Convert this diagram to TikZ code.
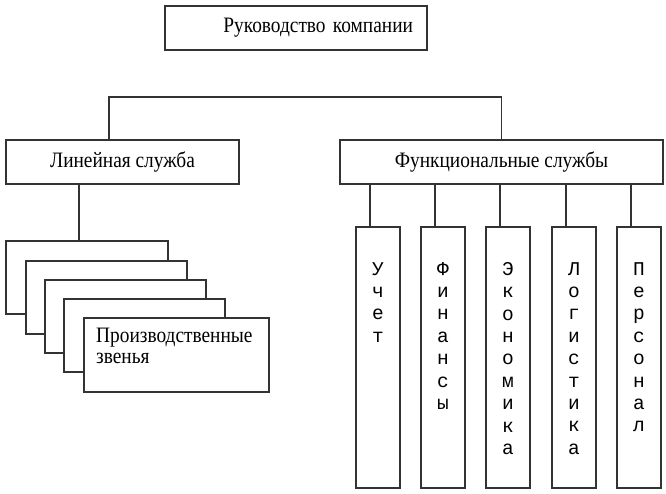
\documentclass[tikz,border=0pt]{standalone}
\usepackage{fontspec}
\setmainfont{Liberation Serif}
\newfontfamily\boxfont[FakeStretch=0.88]{Liberation Serif}
\newfontfamily\colfont{Liberation Mono}
\usetikzlibrary{calc,positioning}
\tikzstyle{link}=[line width=1.6pt, draw=black!80]
\tikzstyle{box}=[
	 rectangle, draw=black!80, line width=1.6pt, fill=white,
	 inner sep=0pt, outer sep=0pt,
	 font={\boxfont\fontsize{22}{21}\selectfont}
    ]
\tikzstyle{head}=[box, minimum width=262pt, minimum height=44pt, text width=234pt, align=right]
\tikzstyle{service}=[box, minimum height=44pt]
\tikzstyle{unit}=[box, anchor=north west, minimum width=161pt, minimum height=73pt]
\tikzstyle{column}=[box, minimum width=44pt, minimum height=261pt]
\tikzstyle{letters}=[inner sep=0pt, align=center, font={\colfont\fontsize{19.5}{22.4}\selectfont}]
\tikzstyle{unitname}=[inner sep=0pt, align=left, font={\boxfont\fontsize{22}{21}\selectfont}]
\newcommand{\pTop}[2]{\draw[link] let \p1 = (#1.north), \p2 = (#2.north) in (\x1-13.5pt,\y1) -- (\x1-13.5pt,\y1+43pt) -| (\x2,\y2)}
\newcommand{\pDown}[2]{\draw[link] let \p1 = (#1.south), \p2 = (#2.north) in (\x2-8pt,\y1) -- (\x2-8pt,\y2)}

\begin{document}
\begin{tikzpicture}[x=1pt,y=1pt]
\useasboundingbox (0,0) rectangle (666,493);

\node[head] (Top) at (296,465) {Руководство компании};

\node[service, minimum width=233pt] (Lin) at (122.5,331) {Линейная служба};
\node[service, minimum width=323pt, right=101pt of Lin] (Fun) {Функциональные службы};

\node[unit, minimum width=162pt] (U1) at (6,252) {};
\node[unit] (U2) at ($(U1.north west)+(20,-20)$) {};
\node[unit] (U3) at ($(U2.north west)+(19,-19)$) {};
\node[unit] (U4) at ($(U3.north west)+(19,-19)$) {};
\node[unit, minimum width=185pt, minimum height=74pt] (U5) at ($(U4.north west)+(20,-19)$) {};
\node[unitname, anchor=north west] (U5t) at ([shift={(12pt,-10pt)}]U5.north west) {Производственные\\звенья};

\node[column] (C1) at (378,135.5) {};
\node[column, right=21pt of C1] (C2) {};
\node[column, right=21pt of C2] (C3) {};
\node[column, right=22pt of C3] (C4) {};
\node[column, right=21pt of C4] (C5) {};

\node[letters, below=35pt of C1.north] (C1t) {У\\ч\\е\\т};
\node[letters, below=35pt of C2.north] (C2t) {Ф\\и\\н\\а\\н\\с\\ы};
\node[letters, below=35pt of C3.north] (C3t) {Э\\к\\о\\н\\о\\м\\и\\к\\а};
\node[letters, below=35pt of C4.north] (C4t) {Л\\о\\г\\и\\с\\т\\и\\к\\а};
\node[letters, below=35pt of C5.north] (C5t) {П\\е\\р\\с\\о\\н\\а\\л};

\pTop{Lin}{Fun};
\pDown{Lin}{U1};

\pDown{Fun}{C1};
\pDown{Fun}{C2};
\pDown{Fun}{C3};
\pDown{Fun}{C4};
\pDown{Fun}{C5};

\end{tikzpicture}
\end{document}
